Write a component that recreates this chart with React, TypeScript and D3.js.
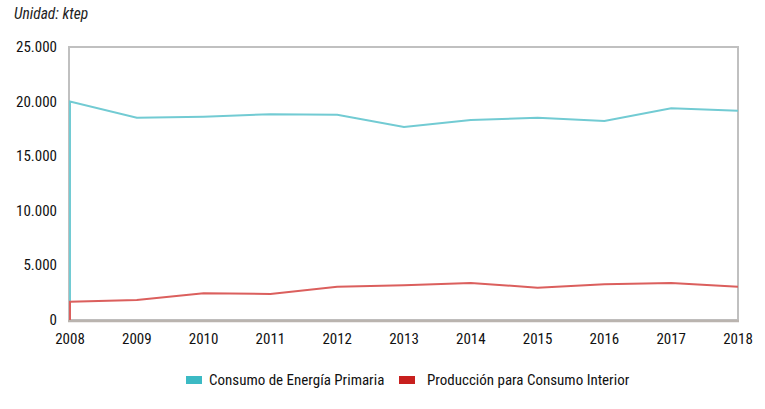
import React from "react";
import * as d3 from "d3";

const years = [2008, 2009, 2010, 2011, 2012, 2013, 2014, 2015, 2016, 2017, 2018];
const consumo = [20000, 18530, 18620, 18840, 18800, 17670, 18310, 18520, 18220, 19390, 19170];
const produccion = [1680, 1830, 2450, 2380, 3050, 3180, 3390, 2960, 3270, 3390, 3050];
const yTicks = [0, 5000, 10000, 15000, 20000, 25000];
const seriesNames = ["Consumo de Energía Primaria", "Producción para Consumo Interior"];

const W = 765, H = 409;
const L = 70, R = 738, T = 47, B = 320;
const FONT = "'Liberation Sans Narrow', 'Roboto Condensed', Roboto, sans-serif";

export default function App() {
  const x = d3.scaleLinear().domain([years[0], years[years.length - 1]]).range([L, R]);
  const y = d3.scaleLinear().domain([0, 25000]).range([B, T]);
  const fmt = (v: number) => d3.format(",")(v).replace(/,/g, ".");
  const line = d3.line<[number, number]>().x(d => x(d[0])).y(d => y(d[1]));
  const mk = (vals: number[]) =>
    line([[years[0], 0] as [number, number], ...years.map((yr, i) => [yr, vals[i]] as [number, number])]) as string;

  return (
    <svg width={W} height={H} style={{ position: "absolute", left: 0, top: 0, background: "#fff" }}>
      <text x={14} y={19} fontFamily={FONT} fontStyle="italic" fontSize={15.5} fill="#222">Unidad: ktep</text>
      {/* frame */}
      <rect x={L - 1} y={T} width={R - L + 1} height={B - T} fill="none" stroke="#c0c0c0" strokeWidth={2} />
      <line x1={L - 2} x2={R + 1} y1={B + 1} y2={B + 1} stroke="#bab4af" strokeWidth={2.5} />
      {yTicks.map(t => (
        <text key={t} x={57} y={y(t) + 5} textAnchor="end" fontFamily={FONT} fontSize={15} fill="#111">{fmt(t)}</text>
      ))}
      {years.map(yr => (
        <text key={yr} x={x(yr)} y={344} textAnchor="middle" fontFamily={FONT} fontSize={15} fill="#111">{yr}</text>
      ))}
      <path d={mk(consumo)} fill="none" stroke="#72cbd3" strokeWidth={2} />
      <path d={mk(produccion)} fill="none" stroke="#db5f5d" strokeWidth={2} />
      {/* legend */}
      <rect x={186} y={376} width={16} height={8} fill="#3cbac4" />
      <text x={209} y={385} fontFamily={FONT} fontSize={15} fill="#111">{seriesNames[0]}</text>
      <rect x={399} y={376} width={16} height={8} fill="#c8201e" />
      <text x={427} y={385} fontFamily={FONT} fontSize={15} fill="#111">{seriesNames[1]}</text>
    </svg>
  );
}
